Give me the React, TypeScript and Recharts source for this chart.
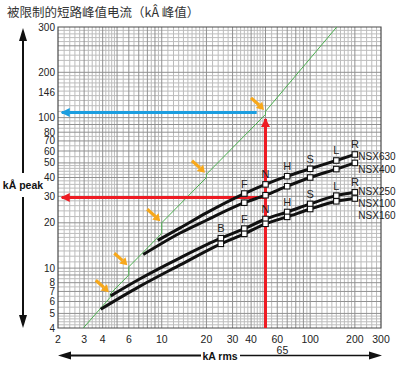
import React from "react";
import {
  CartesianGrid,
  ComposedChart,
  Line,
  ReferenceArea,
  Scatter,
  XAxis,
  YAxis,
} from "recharts";

const FONT = '"Liberation Sans", Arial, sans-serif';

// axis ticks (rms kA / peak kA)
const xTicks = [2, 3, 4, 6, 10, 20, 30, 40, 60, 65, 100, 200, 300];
const yTicks = [4, 5, 6, 7, 8, 10, 20, 30, 40, 50, 60, 70, 80, 100, 146, 200, 400];
const yTopValue = 400;
const yTopLabel = "300";

// breaking capacity letters and their rms kA
const ratingLetters = ["B", "F", "N", "H", "S", "L", "R"];
const ratingKa = [25, 36, 50, 70, 100, 150, 200];

// limitation curves
const nsx630Rms = [9.4, 13.3, 20, 36, 50, 70, 100, 150, 200];
const nsx630Peak = [15.3, 18.5, 23.3, 31.3, 36, 40.8, 45.7, 51.9, 56.9];
const nsx400Rms = [7.5, 13.3, 20, 36, 50, 70, 100, 150, 200];
const nsx400Peak = [12.3, 17.1, 20.8, 27.2, 30.5, 35, 40, 45.5, 50];
const nsx250Rms = [4.53, 7, 13.3, 25, 36, 50, 70, 100, 150, 200];
const nsx250Peak = [6.54, 8.4, 11.7, 15.8, 18.3, 21.2, 23.6, 26.7, 30.3, 31.9];
const nsx100Rms = [3.88, 7, 13.3, 25, 36, 50, 70, 100, 150, 200];
const nsx100Peak = [5.33, 7.5, 10.5, 14.5, 16.9, 19.7, 21.9, 24.7, 27.8, 29];

// prospective (non limited) peak line
const prospectiveRms = [2.96, 4.5, 4.5, 6, 6, 10, 10, 20, 20, 50, 50, 151];
const prospectivePeak = [4, 6.4, 6.75, 9, 10.2, 17, 20, 40, 42, 105, 110, 400];

// orange arrows point at the steps of the prospective line
const kinkRms = [4.5, 6, 10, 20, 50];
const kinkPeak = [6.75, 10.2, 20, 42, 110];

// example reading: 50 kA rms -> 30 kA peak, 108 kA peak unlimited
const exampleRms = 50;
const exampleLimitedPeak = 29.5;
const exampleProspectivePeak = 108;
const arrowStartRms = 2.12;
const blueEndRms = 43.6;
const redTopPeak = 98;

const toPts = (xs: number[], ys: number[]) => xs.map((x, i) => ({ x, y: ys[i] }));

function markers(xs: number[], ys: number[], letters: string[], showLetters: boolean, names: string[]) {
  return letters.map((l) => {
    const ka = ratingKa[ratingLetters.indexOf(l)];
    const i = xs.indexOf(ka);
    return {
      x: ka,
      y: ys[i],
      letter: showLetters ? l : "",
      names: l === "R" ? names : [],
    };
  });
}

const upperLetters = ["F", "N", "H", "S", "L", "R"];
const lowerLetters = ["B", "F", "N", "H", "S", "L", "R"];

function logGrid(lo: number, hi: number) {
  const minor: number[] = [];
  const major: number[] = [];
  for (let d = 1; d <= 100; d *= 10) {
    let m = 10;
    while (m < 100) {
      const v = (m * d) / 10;
      if (v > lo && v < hi) (m % 10 === 0 ? major : minor).push(v);
      m += m < 20 ? 1 : m < 50 ? 2 : 5;
    }
  }
  return { minor, major };
}
const gridX = logGrid(2, 300);
const gridY = logGrid(4, 400);

const makeMarker = (nameDy: number) => (props: any) => {
  const { cx, cy, payload } = props;
  if (cx == null || cy == null) return <g />;
  return (
    <g>
      <rect x={cx - 2.75} y={cy - 2.75} width={5.5} height={5.5} fill="#fff" stroke="#111" strokeWidth={1.1} />
      {payload.letter ? (
        <text x={cx} y={cy - 6} textAnchor="middle" fontSize={11} fill="#222" fontFamily={FONT}>
          {payload.letter}
        </text>
      ) : null}
      {payload.names.map((n: string, i: number) => (
        <text key={n} x={cx + 3.5} y={cy + nameDy + i * 12} fontSize={10} fill="#222" fontFamily={FONT}>
          {n}
        </text>
      ))}
    </g>
  );
};

const arrowDot = (dir: "left" | "up", color: string, at: number) => (props: any) => {
  const { cx, cy, index } = props;
  if (index !== at || cx == null) return <g key={`a-${index}`} />;
  const pts =
    dir === "left"
      ? `${cx - 1},${cy} ${cx + 8},${cy - 4.5} ${cx + 8},${cy + 4.5}`
      : `${cx},${cy - 1} ${cx - 4.5},${cy + 8} ${cx + 4.5},${cy + 8}`;
  return <polygon key={`a-${index}`} points={pts} fill={color} />;
};

const KinkArrow = (props: any) => {
  const { cx, cy } = props;
  if (cx == null) return <g />;
  const tx = cx - 1.5;
  const ty = cy - 1.5;
  const k = Math.SQRT1_2;
  const bx = tx - 7 * k;
  const by = ty - 7 * k;
  const px = -4.5 * k;
  const py = 4.5 * k;
  return (
    <g>
      <line x1={tx - 13} y1={ty - 12} x2={bx} y2={by} stroke="#f7a81b" strokeWidth={3.2} />
      <polygon points={`${tx},${ty} ${bx + px},${by + py} ${bx - px},${by - py}`} fill="#f7a81b" />
    </g>
  );
};

const XTick = (props: any) => {
  const { x, y, payload } = props;
  const v = payload.value;
  return (
    <text x={x} y={v === 65 ? y + 24 : y + 13} textAnchor="middle" fontSize={10.5} fill="#222" fontFamily={FONT}>
      {v}
    </text>
  );
};

export default function App() {
  return (
    <div style={{ position: "absolute", left: 0, top: 0, width: 400, height: 366, background: "#fff" }}>
      <ComposedChart width={400} height={366} margin={{ top: 27, right: 19, bottom: 0, left: 0 }}>
        <XAxis
          dataKey="x"
          type="number"
          scale="log"
          domain={[2, 300]}
          ticks={xTicks}
          interval={0}
          axisLine={false}
          tickLine={false}
          tickSize={0}
          height={38}
          tick={<XTick />}
        />
        <YAxis
          dataKey="y"
          type="number"
          scale="log"
          domain={[4, yTopValue]}
          ticks={yTicks}
          interval={0}
          axisLine={false}
          tickLine={false}
          tickSize={0}
          tickMargin={3}
          width={58}
          tick={{ fontSize: 10, fill: "#222", fontFamily: FONT }}
          tickFormatter={(v: number) => (v === yTopValue ? yTopLabel : String(v))}
        />
        <CartesianGrid horizontalValues={gridY.minor} verticalValues={gridX.minor} stroke="#bcbcbc" />
        <CartesianGrid horizontalValues={gridY.major} verticalValues={gridX.major} stroke="#909090" />
        <ReferenceArea x1={2} x2={300} y1={4} y2={yTopValue} fill="none" stroke="#4a4a4a" strokeWidth={1.2} />

        <Line
          data={toPts(prospectiveRms, prospectivePeak)}
          dataKey="y"
          type="linear"
          stroke="#4caf50"
          strokeWidth={1}
          dot={false}
          activeDot={false}
          isAnimationActive={false}
        />
        <Line
          data={toPts([arrowStartRms, blueEndRms], [exampleProspectivePeak, exampleProspectivePeak])}
          dataKey="y"
          type="linear"
          stroke="#1c9ee0"
          strokeWidth={3}
          dot={arrowDot("left", "#1c9ee0", 0)}
          activeDot={false}
          isAnimationActive={false}
        />
        <Line
          data={toPts([arrowStartRms, exampleRms], [exampleLimitedPeak, exampleLimitedPeak])}
          dataKey="y"
          type="linear"
          stroke="#ee1c24"
          strokeWidth={3}
          dot={arrowDot("left", "#ee1c24", 0)}
          activeDot={false}
          isAnimationActive={false}
        />
        <Line
          data={toPts([exampleRms, exampleRms], [4, redTopPeak])}
          dataKey="y"
          type="linear"
          stroke="#ee1c24"
          strokeWidth={3}
          dot={arrowDot("up", "#ee1c24", 1)}
          activeDot={false}
          isAnimationActive={false}
        />

        {[
          [nsx630Rms, nsx630Peak],
          [nsx400Rms, nsx400Peak],
          [nsx250Rms, nsx250Peak],
          [nsx100Rms, nsx100Peak],
        ].map(([xs, ys], i) => (
          <Line
            key={i}
            data={toPts(xs, ys)}
            dataKey="y"
            type="monotone"
            stroke="#111"
            strokeWidth={3}
            dot={false}
            activeDot={false}
            isAnimationActive={false}
          />
        ))}

        <Scatter data={markers(nsx630Rms, nsx630Peak, upperLetters, true, ["NSX630"])} shape={makeMarker(6)} isAnimationActive={false} />
        <Scatter data={markers(nsx400Rms, nsx400Peak, upperLetters, false, ["NSX400"])} shape={makeMarker(10.5)} isAnimationActive={false} />
        <Scatter data={markers(nsx250Rms, nsx250Peak, lowerLetters, true, ["NSX250"])} shape={makeMarker(2.5)} isAnimationActive={false} />
        <Scatter data={markers(nsx100Rms, nsx100Peak, lowerLetters, false, ["NSX100", "NSX160"])} shape={makeMarker(8)} isAnimationActive={false} />
        <Scatter data={toPts(kinkRms, kinkPeak)} shape={<KinkArrow />} isAnimationActive={false} />
      </ComposedChart>

      <svg width={400} height={366} style={{ position: "absolute", left: 0, top: 0, pointerEvents: "none" }}>
        <text x={7} y={17} fontSize={12.5} fill="#333" fontFamily='"Noto Sans CJK SC", sans-serif'>
          被限制的短路峰值电流（kÂ 峰值）
        </text>
        {/* y axis arrow */}
        <line x1={23} y1={38} x2={23} y2={173} stroke="#111" strokeWidth={2} />
        <line x1={23} y1={197} x2={23} y2={318} stroke="#111" strokeWidth={2} />
        <polygon points="23,28 19,41 27,41" fill="#111" />
        <polygon points="23,328 19,315 27,315" fill="#111" />
        <text x={23} y={189} textAnchor="middle" fontSize={10.5} fontWeight="bold" fill="#111" fontFamily={FONT}>
          kÅ peak
        </text>
        {/* x axis arrow */}
        <line x1={68} y1={355.5} x2={201} y2={355.5} stroke="#111" strokeWidth={2} />
        <line x1={240} y1={355.5} x2={372} y2={355.5} stroke="#111" strokeWidth={1.3} />
        <polygon points="58,355.5 71,351.5 71,359.5" fill="#111" />
        <polygon points="382,355.5 369,351.5 369,359.5" fill="#111" />
        <text x={220} y={359.5} textAnchor="middle" fontSize={10.5} fontWeight="bold" fill="#111" fontFamily={FONT}>
          kA rms
        </text>
      </svg>
    </div>
  );
}
